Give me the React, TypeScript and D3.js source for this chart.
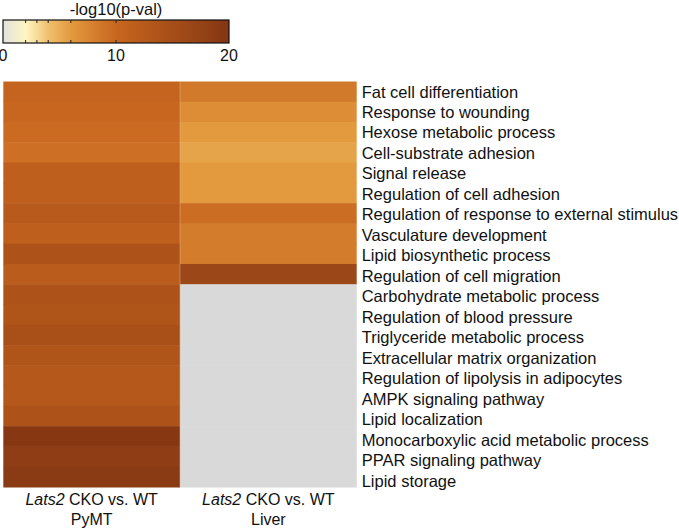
import React from "react";
import * as d3 from "d3";

const terms = [
  "Fat cell differentiation",
  "Response to wounding",
  "Hexose metabolic process",
  "Cell-substrate adhesion",
  "Signal release",
  "Regulation of cell adhesion",
  "Regulation of response to external stimulus",
  "Vasculature development",
  "Lipid biosynthetic process",
  "Regulation of cell migration",
  "Carbohydrate metabolic process",
  "Regulation of blood pressure",
  "Triglyceride metabolic process",
  "Extracellular matrix organization",
  "Regulation of lipolysis in adipocytes",
  "AMPK signaling pathway",
  "Lipid localization",
  "Monocarboxylic acid metabolic process",
  "PPAR signaling pathway",
  "Lipid storage",
];

const columns = ["PyMT", "Liver"];

const pymtValues = [10.5, 10, 9.6, 9.3, 11.5, 11.5, 12.5, 11.5, 14, 12, 14, 13.5, 14.5, 13.5, 13, 13, 14, 19.5, 18.5, 19];
const liverValues: (number | null)[] = [8.5, 7, 6, 5.5, 6, 6, 9.5, 8.3, 8.3, 16.5, null, null, null, null, null, null, null, null, null, null];

const colorStops = [0, 2, 3, 4, 6, 10, 20];
const colorRange = ["#e2e2de", "#fdf6c2", "#f8dc98", "#efc06e", "#e39a3e", "#c8661f", "#843612"];
const colorTicks = [0, 10, 20];
const minorTicks = [2, 3, 4, 6, 10];

export default function App() {
  const W = 679, H = 532;
  const hmLeft = 3.3, hmRight = 356.7, hmTop = 81.5, hmBottom = 487;
  const x = d3.scaleBand<string>().domain(columns).range([hmLeft, hmRight]);
  const y = d3.scaleBand<string>().domain(terms).range([hmTop, hmBottom]);
  const labelY = d3.scalePoint<string>().domain(terms).range([97.5, 486.5]);
  const color = d3.scaleLinear<string>().domain(colorStops).range(colorRange).interpolate(d3.interpolateRgb).clamp(true);

  const cbLeft = 3, cbRight = 229, cbTop = 20, cbBottom = 43;
  const cx = d3.scaleLinear().domain([0, 20]).range([cbLeft, cbRight]);
  const gradStops = d3.range(0, 20.01, 0.5);

  const series = [pymtValues, liverValues];
  const font = "Arial, 'Liberation Sans', sans-serif";

  return (
    <svg width={W} height={H} style={{ position: "absolute", left: 0, top: 0, display: "block" }} fontFamily={font}>
      <defs>
        <linearGradient id="cbgrad" x1="0" x2="1" y1="0" y2="0">
          {gradStops.map((v) => (
            <stop key={v} offset={`${(v / 20) * 100}%`} stopColor={color(v)} />
          ))}
        </linearGradient>
      </defs>
      <rect width={W} height={H} fill="#fff" />
      {/* colorbar */}
      <text x={(cbLeft + cbRight) / 2} y={15} textAnchor="middle" fontSize={16.5} fill="#111">-log10(p-val)</text>
      <rect x={cbLeft} y={cbTop} width={cbRight - cbLeft} height={cbBottom - cbTop} fill="url(#cbgrad)" stroke="#111" strokeWidth={1.2} />
      {minorTicks.map((t) => (
        <g key={t}>
          <line x1={cx(t)} x2={cx(t)} y1={cbTop} y2={cbTop + 3} stroke="#222" strokeWidth={1} />
          <line x1={cx(t)} x2={cx(t)} y1={cbBottom} y2={cbBottom - 3} stroke="#222" strokeWidth={1} />
        </g>
      ))}
      {colorTicks.map((t) => (
        <text key={t} x={cx(t)} y={61} textAnchor="middle" fontSize={16} fill="#111">{t}</text>
      ))}
      {/* heatmap */}
      {series.map((vals, ci) =>
        terms.map((term, ri) => {
          const v = vals[ri];
          return (
            <rect
              key={`${ci}-${ri}`}
              x={x(columns[ci])!}
              y={y(term)!}
              width={x.bandwidth()}
              height={y.bandwidth() + 0.5}
              fill={v == null ? "#d9d9d9" : color(v)}
            />
          );
        })
      )}
      <line x1={x(columns[1])!} x2={x(columns[1])!} y1={hmTop} y2={hmBottom} stroke="#e8b890" strokeWidth={0.8} opacity={0.6} />
      {terms.map((term) => (
        <text key={term} x={hmRight + 5} y={labelY(term)!} fontSize={16.5} fill="#111">{term}</text>
      ))}
      {columns.map((c) => (
        <g key={c}>
          <text x={x(c)! + x.bandwidth() / 2} y={505} textAnchor="middle" fontSize={16} fill="#111">
            <tspan fontStyle="italic">Lats2</tspan> CKO vs. WT
          </text>
          <text x={x(c)! + x.bandwidth() / 2} y={525} textAnchor="middle" fontSize={16} fill="#111">{c}</text>
        </g>
      ))}
    </svg>
  );
}
